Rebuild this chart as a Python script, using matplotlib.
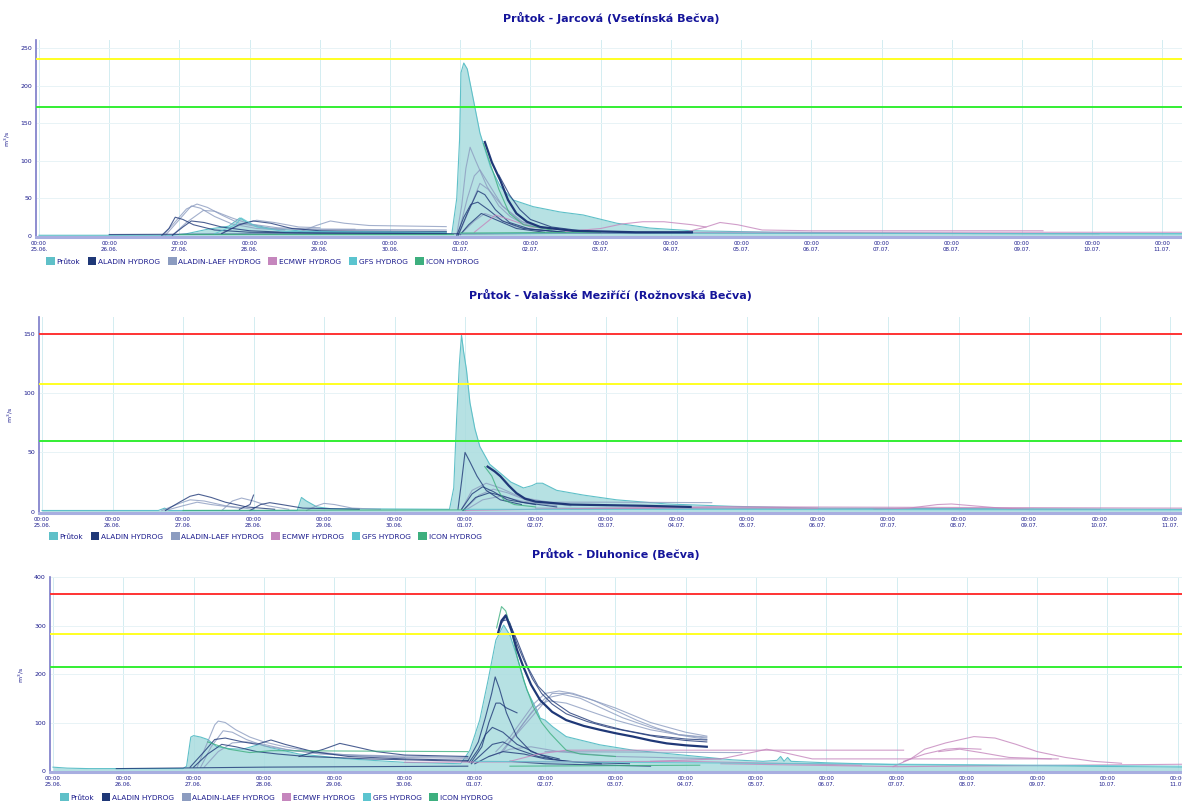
import numpy as np
import matplotlib.pyplot as plt
from matplotlib.patches import Patch

# ---- data (time in days since 25.06. 00:00) ----
days = ['25.06.', '26.06.', '27.06.', '28.06.', '29.06.', '30.06.', '01.07.', '02.07.', '03.07.',
        '04.07.', '05.07.', '06.07.', '07.07.', '08.07.', '09.07.', '10.07.', '11.07.']

titles = ['Průtok - Jarcová (Vsetínská Bečva)',
          'Průtok - Valašské Meziříčí (Rožnovská Bečva)',
          'Průtok - Dluhonice (Bečva)']

legend_labels = ['Průtok', 'ALADIN HYDROG', 'ALADIN-LAEF HYDROG', 'ECMWF HYDROG', 'GFS HYDROG', 'ICON HYDROG']

# Jarcová
jar_limits = [236, 171]
jar_obs = [(0, 1), (1.9, 1), (2.1, 3), (2.4, 9), (2.7, 13), (2.86, 24), (3.0, 16), (3.3, 10), (3.7, 7),
           (4.2, 6), (5.0, 5), (5.88, 3), (5.95, 50), (5.99, 128), (6.01, 217), (6.05, 230), (6.1, 222),
           (6.16, 194), (6.28, 137), (6.43, 92), (6.57, 66), (6.75, 48), (7.04, 39), (7.42, 32), (7.75, 28),
           (8.23, 17), (8.7, 10.6), (9.3, 7), (10.5, 5), (12.0, 4), (14.0, 3), (16.3, 3)]
jar_aladin = [
    [(1.75, 1), (1.85, 10), (1.94, 25), (2.05, 22), (2.2, 15), (2.5, 8), (3.0, 5), (4.0, 4), (5.8, 3)],
    [(1.9, 1), (2.05, 12), (2.17, 20), (2.35, 18), (2.6, 12), (3.0, 7), (3.5, 5), (5.8, 5)],
    [(2.6, 3), (2.85, 15), (3.05, 20), (3.3, 17), (3.6, 10), (4.0, 7), (5.8, 6)],
    [(5.95, 1), (6.05, 25), (6.15, 42), (6.25, 45), (6.4, 35), (6.6, 20), (6.9, 10), (7.5, 5)],
    [(5.97, 1), (6.1, 30), (6.25, 60), (6.35, 55), (6.5, 35), (6.7, 18), (7.0, 9), (7.5, 5)],
    [(6.0, 2), (6.12, 15), (6.3, 30), (6.5, 22), (6.8, 10), (7.2, 5)],
    [(6.55, 81), (6.7, 55), (6.85, 35), (7.0, 22), (7.3, 12), (7.8, 6)],
    [(1.0, 2), (4.0, 3), (6.0, 3), (9.3, 4)],
]
jar_aladin_main = [(6.35, 125), (6.45, 98), (6.57, 74), (6.68, 48), (6.8, 30), (6.95, 19), (7.14, 12),
                   (7.6, 7), (8.5, 5), (9.3, 5)]
jar_laef = [
    [(1.77, 1), (1.95, 20), (2.1, 36), (2.25, 42.5), (2.4, 38), (2.6, 28), (2.85, 17), (3.2, 11), (3.6, 9), (4.5, 9)],
    [(1.8, 1), (2.0, 22), (2.17, 40), (2.3, 37), (2.5, 26), (2.75, 16), (3.1, 10), (3.5, 8)],
    [(1.9, 1), (2.1, 18), (2.34, 34), (2.5, 33), (2.75, 24), (3.0, 16), (3.4, 11), (4.0, 9), (5.8, 8)],
    [(2.6, 4), (2.9, 16), (3.1, 21), (3.35, 18), (3.7, 12), (4.0, 11)],
    [(3.7, 5), (3.95, 14), (4.15, 20), (4.35, 17), (4.7, 14), (5.8, 12.5)],
    [(5.95, 2), (6.02, 40), (6.08, 90), (6.14, 118), (6.22, 100), (6.38, 66), (6.55, 40), (6.71, 26),
     (6.9, 16), (7.2, 10), (7.8, 6)],
    [(5.97, 2), (6.1, 50), (6.2, 80), (6.28, 88), (6.4, 70), (6.6, 40), (6.85, 20), (7.2, 10)],
    [(5.98, 2), (6.15, 40), (6.28, 70), (6.4, 62), (6.6, 40), (6.9, 18), (7.3, 8)],
    [(6.0, 2), (6.2, 20), (6.35, 30), (6.5, 25), (6.8, 12), (7.3, 6)],
    [(7.0, 4), (15.1, 3)],
]
jar_ecmwf = [
    [(6.2, 5), (6.4, 20), (6.5, 28), (6.7, 22), (7.0, 12), (7.5, 8)],
    [(7.5, 6), (8.0, 10), (8.3, 16), (8.6, 19), (8.9, 19), (9.3, 15), (9.5, 12)],
    [(9.2, 5), (9.5, 12), (9.7, 18), (9.95, 15), (10.3, 8), (11.0, 7), (14.3, 7)],
    [(6.0, 3), (10.0, 5), (16.3, 5)],
]
jar_gfs = [
    [(2.5, 3), (2.8, 15), (2.88, 24), (3.1, 12), (3.5, 6), (5.8, 5)],
    [(6.0, 3), (8.0, 4), (16.3, 3)],
]
jar_icon = [
    [(6.33, 123), (6.45, 90), (6.55, 62), (6.7, 30), (6.9, 15), (7.3, 8)],
    [(2.0, 3), (5.9, 3)],
    [(6.0, 4), (8.0, 5)],
]

# Valašské Meziříčí
val_limits = [150, 108, 60]
val_obs = [(0, 1), (1.65, 1), (1.74, 3), (1.8, 1), (3.62, 1), (3.68, 12), (3.75, 9), (3.9, 4), (4.1, 2.5),
           (5.78, 2), (5.84, 20), (5.88, 77), (5.92, 125), (5.95, 149), (5.98, 135), (6.02, 120), (6.07, 92),
           (6.14, 70), (6.21, 55), (6.35, 40), (6.5, 32.6), (6.65, 25), (6.83, 20), (6.95, 22), (7.02, 24),
           (7.1, 24), (7.3, 18), (7.68, 14), (8.15, 10), (8.86, 6.5), (9.8, 4.5), (11.0, 3), (16.2, 2)]
val_aladin = [
    [(1.75, 1), (1.95, 8), (2.1, 13), (2.22, 14.7), (2.4, 12), (2.6, 8), (2.9, 4), (3.3, 2)],
    [(2.8, 2), (2.95, 6), (3.0, 14)],
    [(2.95, 1), (3.1, 6), (3.23, 7.6), (3.4, 6), (3.7, 3), (4.5, 2)],
    [(5.9, 2), (5.95, 25), (6.0, 50), (6.07, 42), (6.17, 30), (6.3, 18), (6.5, 10), (6.8, 6)],
    [(5.95, 2), (6.1, 15), (6.25, 21), (6.4, 17), (6.6, 10), (7.0, 6)],
    [(5.97, 1), (6.15, 12), (6.35, 16), (6.55, 13), (6.8, 8), (7.3, 4)],
]
val_aladin_main = [(6.32, 38), (6.42, 34), (6.5, 30), (6.62, 22), (6.73, 15.6), (6.85, 11), (7.0, 8.5),
                   (7.5, 6), (8.5, 5), (9.2, 4)]
val_laef = [
    [(1.7, 1), (1.95, 7), (2.1, 10), (2.3, 9), (2.6, 5), (3.0, 2)],
    [(1.75, 1), (2.0, 5), (2.2, 8), (2.4, 6), (2.8, 3)],
    [(2.55, 1), (2.7, 9), (2.83, 11.5), (3.0, 9), (3.2, 5), (3.5, 2)],
    [(3.75, 1), (3.9, 5), (4.0, 7), (4.15, 6), (4.4, 3), (4.8, 2)],
    [(5.95, 2), (6.1, 18), (6.3, 24), (6.5, 20), (6.8, 12), (7.2, 8), (8.0, 8), (9.5, 7.6)],
    [(5.98, 1), (6.2, 14), (6.4, 19), (6.6, 16), (6.9, 9), (7.5, 5)],
    [(6.0, 1), (6.25, 10), (6.5, 13), (6.8, 9), (7.3, 5)],
    [(7.0, 3), (15.0, 2)],
]
val_ecmwf = [
    [(11.8, 2), (12.3, 3), (12.7, 6), (12.9, 6.5), (13.2, 5), (13.6, 3), (14.0, 2)],
    [(6.0, 1), (8.0, 3), (9.5, 4), (10.5, 4), (16.2, 3)],
    [(7.5, 2), (9.7, 4), (11.0, 3)],
]
val_gfs = [
    [(6.0, 2), (16.2, 1.5)],
]
val_icon = [
    [(6.28, 38), (6.38, 30), (6.45, 20), (6.55, 10), (6.7, 6), (7.0, 4)],
    [(2.0, 1), (6.0, 1.5)],
]

# Dluhonice
dlu_limits = [365, 283, 214]
dlu_obs = [(0, 8), (0.2, 6), (0.5, 5), (1.85, 5), (1.9, 10), (1.96, 70), (2.0, 73), (2.1, 70), (2.2, 65),
           (2.33, 50), (2.52, 46), (2.7, 45), (2.94, 55), (3.1, 48), (3.5, 35), (4.2, 25), (5.0, 18), (5.8, 15),
           (5.93, 43), (6.07, 105), (6.19, 188), (6.3, 270), (6.41, 301), (6.5, 280), (6.6, 236), (6.74, 167),
           (6.88, 126), (6.93, 109), (7.0, 105), (7.11, 91), (7.3, 71), (7.78, 54), (8.25, 43), (8.96, 33),
           (9.67, 23), (10.1, 20), (10.3, 22), (10.35, 30), (10.4, 20), (10.45, 28), (10.5, 20), (11.0, 17),
           (12.0, 13), (13.0, 12), (14.5, 10), (16.1, 8)]
dlu_aladin = [
    [(6.36, 300), (6.44, 318), (6.5, 305), (6.6, 262), (6.7, 228), (6.82, 190), (6.95, 160), (7.1, 138),
     (7.3, 118), (7.6, 102), (7.9, 90), (8.25, 80), (8.6, 70), (9.0, 63), (9.3, 60)],
    [(6.4, 310), (6.47, 312), (6.6, 270), (6.75, 215), (6.9, 175), (7.1, 145), (7.35, 120), (7.7, 100),
     (8.1, 85), (8.5, 74), (9.0, 66), (9.3, 64)],
    [(5.9, 20), (6.05, 60), (6.15, 110), (6.24, 160), (6.29, 194), (6.35, 170), (6.45, 120), (6.6, 70),
     (6.8, 40), (7.1, 25)],
    [(5.95, 18), (6.1, 50), (6.2, 100), (6.3, 140), (6.36, 140), (6.45, 130), (6.6, 120)],
    [(5.92, 18), (6.05, 45), (6.15, 75), (6.25, 90), (6.4, 80), (6.6, 55), (6.9, 35), (7.2, 25)],
    [(5.95, 15), (6.1, 35), (6.25, 55), (6.4, 60), (6.6, 45), (6.9, 30), (7.3, 20), (7.8, 15)],
    [(6.0, 15), (6.2, 30), (6.4, 40), (6.7, 35), (7.0, 25), (7.5, 18), (8.2, 15)],
    [(1.95, 8), (2.15, 40), (2.3, 65), (2.45, 68), (2.7, 60), (2.9, 55), (3.1, 64), (3.3, 55), (3.7, 40),
     (4.2, 30), (5.0, 25), (5.9, 22)],
    [(2.0, 8), (2.2, 35), (2.4, 55), (2.6, 50), (2.9, 40), (3.2, 35), (3.6, 30), (4.5, 25), (5.9, 20)],
    [(3.5, 30), (3.85, 45), (4.08, 57), (4.3, 50), (4.6, 40), (5.0, 33), (5.9, 30)],
    [(0.9, 5), (3.0, 8), (5.9, 10)],
    [(6.5, 20), (7.0, 15), (8.5, 10)],
]
dlu_aladin_main = [(6.33, 284), (6.38, 310), (6.44, 321), (6.52, 290), (6.6, 250), (6.69, 215), (6.8, 178),
                   (6.93, 146), (7.1, 122), (7.3, 105), (7.55, 93), (7.78, 85), (8.0, 78), (8.25, 71),
                   (8.5, 63), (8.73, 57), (9.0, 53), (9.3, 50)]
dlu_laef = [
    [(2.05, 8), (2.2, 60), (2.3, 95), (2.35, 103), (2.45, 100), (2.6, 85), (2.8, 70), (3.0, 60), (3.3, 50),
     (3.7, 40), (4.2, 33), (5.0, 28), (5.9, 26)],
    [(2.1, 8), (2.25, 50), (2.42, 83), (2.55, 80), (2.75, 65), (3.0, 52), (3.4, 42), (4.0, 34), (5.9, 28)],
    [(2.15, 8), (2.35, 40), (2.55, 58), (2.75, 60), (3.0, 55), (3.3, 45), (3.8, 35), (5.0, 28)],
    [(6.3, 40), (6.5, 70), (6.7, 110), (6.85, 140), (7.0, 160), (7.2, 165), (7.4, 160), (7.7, 145),
     (8.0, 125), (8.3, 105), (8.6, 88), (8.9, 75), (9.3, 68)],
    [(6.35, 35), (6.6, 80), (6.8, 120), (7.0, 150), (7.25, 158), (7.5, 150), (7.8, 130), (8.1, 110),
     (8.5, 90), (8.9, 75), (9.3, 70)],
    [(6.4, 40), (6.7, 100), (6.88, 133), (7.05, 145), (7.3, 140), (7.6, 125), (8.0, 105), (8.5, 85),
     (9.0, 72), (9.3, 65)],
    [(6.5, 60), (6.8, 110), (7.1, 160), (7.35, 160), (7.6, 150), (8.0, 130), (8.5, 100), (9.0, 80), (9.3, 72)],
    [(6.2, 30), (6.5, 45), (6.8, 50), (7.2, 40), (8.0, 30), (9.5, 25)],
    [(7.0, 40), (9.8, 38)],
]
dlu_ecmwf = [
    [(6.5, 20), (6.9, 35), (7.3, 43), (12.1, 43)],
    [(8.5, 20), (9.5, 25), (10.0, 40), (10.15, 45), (10.4, 38), (10.8, 25), (14.3, 25)],
    [(11.95, 9), (12.2, 25), (12.4, 45), (12.7, 58), (13.1, 71), (13.4, 68), (13.7, 55), (14.0, 40),
     (14.4, 28), (14.8, 20), (15.2, 16)],
    [(12.1, 20), (12.4, 35), (12.7, 45), (12.9, 47), (13.2, 45)],
    [(12.6, 40), (12.9, 45), (13.2, 38), (13.6, 28), (14.2, 25)],
    [(9.5, 15), (12.0, 9), (16.1, 14)],
    [(5.0, 18), (9.0, 20), (11.5, 12)],
]
dlu_gfs = [
    [(6.0, 20), (16.1, 10)],
]
dlu_icon = [
    [(6.31, 295), (6.38, 339), (6.44, 330), (6.52, 290), (6.6, 236), (6.7, 185), (6.83, 133), (6.95, 100),
     (7.07, 78), (7.2, 58), (7.3, 43), (7.5, 35), (8.0, 30)],
    [(2.2, 60), (2.5, 45), (2.8, 38), (3.1, 42), (5.9, 40)],
    [(6.5, 10), (9.2, 12)],
]

# ---- style ----
navy = '#1a1a8c'
title_col = '#14149a'
c_obs_fill = '#aadcdf'
c_obs_edge = '#5fc0c8'
c_aladin = '#1f3877'
c_laef = '#8c9cc0'
c_ecmwf = '#c586bd'
c_gfs = '#5bc4cf'
c_icon = '#3daf7e'
limit_colors = {3: ['#ff3333', '#ffff22', '#33ee33'], 2: ['#ffff22', '#33ee33']}

fig = plt.figure(figsize=(11.82, 8.01), dpi=100)


def draw_panel(rect, xlim, ylim, yticks, obs, groups, main, limits):
    ax = fig.add_axes(rect)
    t = [p[0] for p in obs]
    v = [p[1] for p in obs]
    ax.fill_between(t, 0, v, color=c_obs_fill, alpha=0.85, lw=0, zorder=2)
    ax.plot(t, v, color=c_obs_edge, lw=0.8, zorder=3)
    for color, lines in groups:
        for ln in lines:
            ax.plot([p[0] for p in ln], [p[1] for p in ln], color=color, lw=0.8, alpha=0.8, zorder=4)
    ax.plot([p[0] for p in main], [p[1] for p in main], color=c_aladin, lw=1.6, zorder=5)
    for val, col in zip(limits, limit_colors[len(limits)]):
        ax.axhline(val, color=col, lw=1.4, zorder=6)
    ax.set_xlim(*xlim)
    ax.set_ylim(*ylim)
    ax.set_xticks(range(len(days)))
    ax.set_xticklabels(['00:00\n' + d for d in days], fontsize=4, color=navy, linespacing=1.3)
    ax.set_yticks(yticks)
    ax.set_yticklabels([str(y) for y in yticks], fontsize=4.5, color=navy)
    ax.tick_params(length=0, pad=3)
    ax.grid(True, axis='x', color='#d3edf1', lw=0.7, zorder=0)
    ax.grid(True, axis='y', color='#e8f3f6', lw=0.7, zorder=0)
    for s in ['top', 'right']:
        ax.spines[s].set_visible(False)
    ax.spines['left'].set_color('#7a7ac8')
    ax.spines['left'].set_linewidth(1.2)
    ax.spines['bottom'].set_color('#a8aee0')
    ax.spines['bottom'].set_linewidth(2.2)
    ax.set_ylabel('m$^3$/s', fontsize=4.5, color=navy, labelpad=6)
    return ax


groups_jar = [(c_laef, jar_laef), (c_aladin, jar_aladin), (c_ecmwf, jar_ecmwf), (c_gfs, jar_gfs), (c_icon, jar_icon)]
groups_val = [(c_laef, val_laef), (c_aladin, val_aladin), (c_ecmwf, val_ecmwf), (c_gfs, val_gfs), (c_icon, val_icon)]
groups_dlu = [(c_laef, dlu_laef), (c_aladin, dlu_aladin), (c_ecmwf, dlu_ecmwf), (c_gfs, dlu_gfs), (c_icon, dlu_icon)]

ax1 = draw_panel([36 / 1182, 1 - 237 / 801, 1146 / 1182, 197 / 801], (-0.043, 16.28), (-1.3, 260.6),
                 [0, 50, 100, 150, 200, 250], jar_obs, groups_jar, jar_aladin_main, jar_limits)
ax2 = draw_panel([39 / 1182, 1 - 512.5 / 801, 1143 / 1182, 195.5 / 801], (-0.043, 16.17), (-0.7, 164.3),
                 [0, 50, 100, 150], val_obs, groups_val, val_aladin_main, val_limits)
ax3 = draw_panel([50 / 1182, 1 - 772 / 801, 1132 / 1182, 195 / 801], (-0.043, 16.06), (-2, 400),
                 [0, 100, 200, 300, 400], dlu_obs, groups_dlu, dlu_aladin_main, dlu_limits)

title_pos = [(611, 18), (610, 295), (616, 554)]
for (x, y), txt in zip(title_pos, titles):
    fig.text(x / 1182, 1 - y / 801, txt, ha='center', va='center', fontsize=8, fontweight='bold', color=title_col)

handles = [Patch(facecolor=c, edgecolor='none') for c in [c_obs_edge, c_aladin, c_laef, c_ecmwf, c_gfs, c_icon]]
legend_pos = [(46, 261), (49, 536), (60, 797)]
for x, y in legend_pos:
    fig.legend(handles, legend_labels, loc='center left', bbox_to_anchor=(x / 1182, 1 - y / 801),
               ncol=6, frameon=False, fontsize=5.3, labelcolor=navy, handlelength=1.2, handleheight=1.1,
               handletextpad=0.25, columnspacing=1.0, borderpad=0, borderaxespad=0)

fig.savefig('out.png', dpi=100, facecolor='white')
